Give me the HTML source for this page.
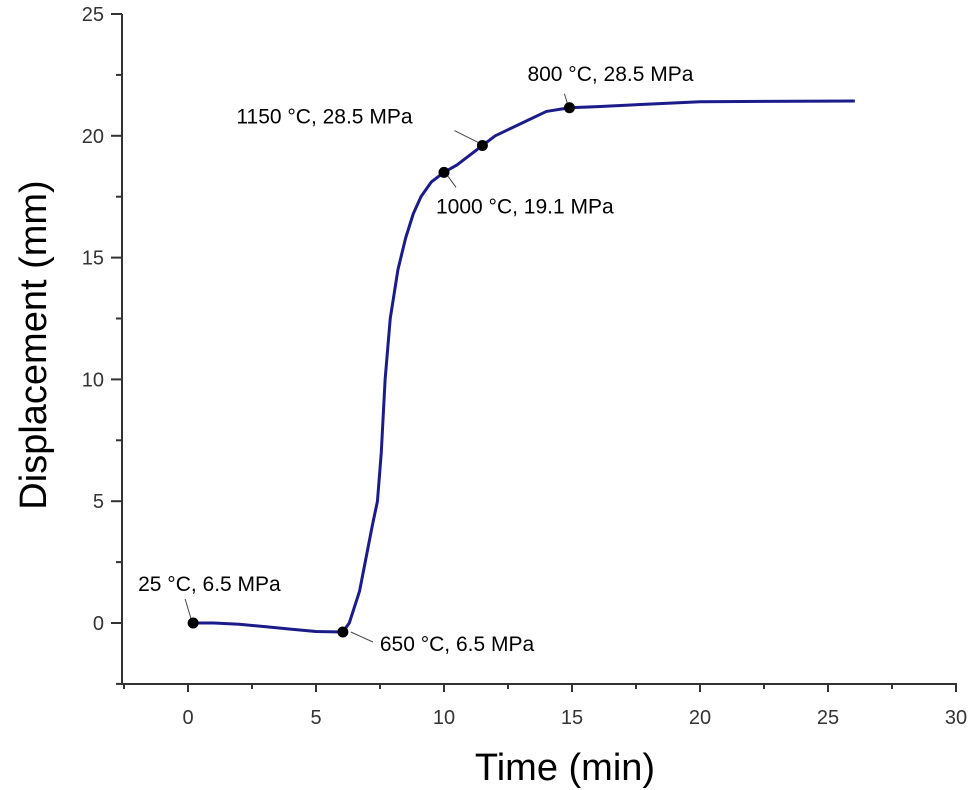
<!DOCTYPE html>
<html><head><meta charset="utf-8"><style>
body{margin:0;background:#fff}
svg{display:block;font-family:"Liberation Sans",sans-serif}
</style></head><body>
<svg width="975" height="790" id="c"></svg>
<script>
const xTicks=[0,5,10,15,20,25,30];
const yTicks=[0,5,10,15,20,25];
const timeVals=[0.2,1,2,3,4,5,6.05,6.3,6.7,7.2,7.4,7.55,7.7,7.9,8.2,8.5,8.8,9.1,9.5,10,10.5,11,11.5,12,13,14,14.9,16,18,20,26.05];
const dispVals=[0,0,-0.05,-0.15,-0.25,-0.35,-0.37,0,1.3,4,5,7,10,12.5,14.5,15.8,16.8,17.5,18.1,18.5,18.8,19.2,19.6,20,20.5,21,21.15,21.2,21.3,21.4,21.43];
const ptT=[0.2,6.05,10,11.5,14.9];
const ptD=[0,-0.37,18.5,19.6,21.15];
const ptLabels=["25 °C, 6.5 MPa","650 °C, 6.5 MPa","1000 °C, 19.1 MPa","1150 °C, 28.5 MPa","800 °C, 28.5 MPa"];
const X=v=>188+v*25.6, Y=v=>623-v*24.36;
const NS="http://www.w3.org/2000/svg", s=document.getElementById('c');
function mk(t,a,p){const e=document.createElementNS(NS,t);for(const k in a)e.setAttribute(k,a[k]);(p||s).appendChild(e);return e;}
const ax=mk('g',{stroke:'#333','stroke-width':2,fill:'none'});

mk('line',{x1:122,y1:14,x2:122,y2:684},ax);
mk('line',{x1:121,y1:684,x2:957,y2:684},ax);
for(let v=-2.5;v<=30.01;v+=2.5){const big=v%5===0;mk('line',{x1:X(v),y1:684,x2:X(v),y2:684+(big?8:5)},ax);}
for(let v=-2.5;v<=25.01;v+=2.5){const big=v%5===0;mk('line',{x1:122-(big?11:6),y1:Y(v),x2:122,y2:Y(v)},ax);}
xTicks.forEach(v=>{const t=mk('text',{x:X(v),y:724,'text-anchor':'middle','font-size':20,fill:'#333'});t.textContent=v;
});
yTicks.forEach(v=>{const t=mk('text',{x:104,y:Y(v)+7,'text-anchor':'end','font-size':20,fill:'#333'});t.textContent=v;
});
const xt=mk('text',{x:565,y:780,'text-anchor':'middle','font-size':38,fill:'#000'});xt.textContent='Time (min)';

const yt=mk('text',{x:0,y:0,transform:'translate(46,345) rotate(-90)','text-anchor':'middle','font-size':38,fill:'#000'});yt.textContent='Displacement (mm)';

const line=mk('polyline',{points:timeVals.map((t,i)=>X(t)+','+Y(dispVals[i])).join(' '),fill:'none',stroke:'#1b1b8a','stroke-width':3,'stroke-linejoin':'round'});

// [leader dx1,dy1,dx2,dy2, label dx, label dy]
const lab=[[-2,-4,-8,-24,-55,-32],[8,0,30,10,37,19],[4,4,12,15,-8,41],[-4,-3,-28,-15,-246,-22],[-2,-4,-5,-14,-42,-27]];
ptT.forEach((t,i)=>{const x=X(t),y=Y(ptD[i]),L=lab[i];
mk('line',{x1:x+L[0],y1:y+L[1],x2:x+L[2],y2:y+L[3],stroke:'#444','stroke-width':1});
const c=mk('circle',{cx:x,cy:y,r:5.5,fill:'#000'});

const tx=mk('text',{x:x+L[4],y:y+L[5],'font-size':21,fill:'#000'});tx.textContent=ptLabels[i];
});
</script>
</body></html>
